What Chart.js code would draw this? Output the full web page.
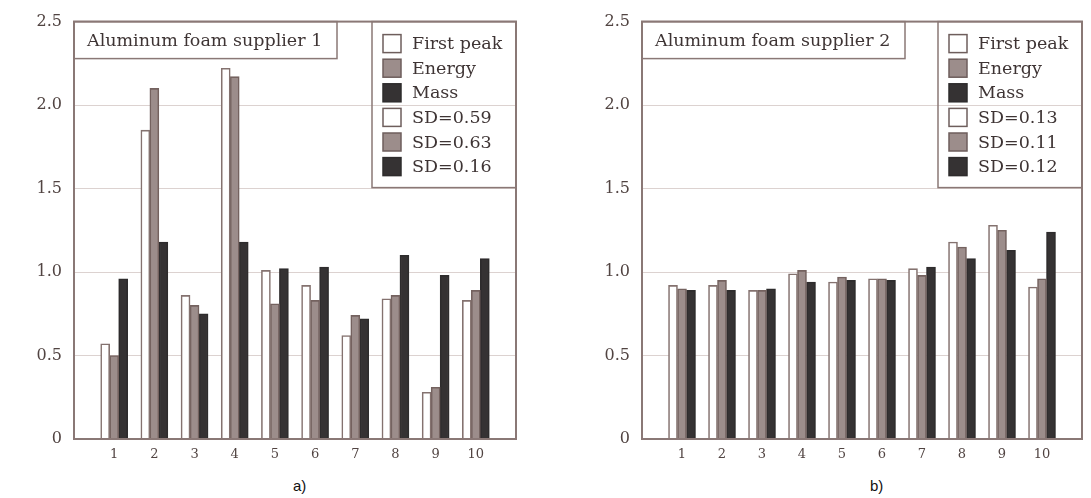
<!DOCTYPE html>
<html>
<head>
<meta charset="utf-8">
<script src="https://cdn.jsdelivr.net/npm/chart.js@4.4.1/dist/chart.umd.min.js"></script>
<style>
  body { margin: 0; background: #fff; width: 1091px; height: 498px; position: relative; overflow: hidden; }
  .box { position: absolute; top: 0; }
  .cap { position: absolute; top: 477px; font: 15px "Liberation Sans", Arial, sans-serif; color: #111; }
</style>
</head>
<body>
<div class="box" style="left:0"><canvas id="chartA" width="530" height="470"></canvas></div>
<div class="box" style="left:568px"><canvas id="chartB" width="523" height="470"></canvas></div>
<div class="cap" style="left:293px">a)</div>
<div class="cap" style="left:870px">b)</div>
<script>
// sample numbers on the x axis
const categories = ['1', '2', '3', '4', '5', '6', '7', '8', '9', '10'];
const seriesNames = ['First peak', 'Energy', 'Mass'];
const yTicks = [0, 0.5, 1.0, 1.5, 2.0, 2.5];

// supplier 1
const title1 = 'Aluminum foam supplier 1';
const s1FirstPeak = [0.57, 1.85, 0.86, 2.22, 1.01, 0.92, 0.62, 0.84, 0.28, 0.83];
const s1Energy    = [0.50, 2.10, 0.80, 2.17, 0.81, 0.83, 0.74, 0.86, 0.31, 0.89];
const s1Mass      = [0.96, 1.18, 0.75, 1.18, 1.02, 1.03, 0.72, 1.10, 0.98, 1.08];
const sd1 = ['SD=0.59', 'SD=0.63', 'SD=0.16'];

// supplier 2
const title2 = 'Aluminum foam supplier 2';
const s2FirstPeak = [0.92, 0.92, 0.89, 0.99, 0.94, 0.96, 1.02, 1.18, 1.28, 0.91];
const s2Energy    = [0.90, 0.95, 0.89, 1.01, 0.97, 0.96, 0.98, 1.15, 1.25, 0.96];
const s2Mass      = [0.89, 0.89, 0.90, 0.94, 0.95, 0.95, 1.03, 1.08, 1.13, 1.24];
const sd2 = ['SD=0.13', 'SD=0.11', 'SD=0.12'];

const fills   = ['#ffffff', '#9c8d8b', '#353233'];
const borders = ['#84726f', '#74625f', '#2e2c2d'];
const frameColor = '#8a7876';
const textColor = '#514442';
const serif = '"DejaVu Serif", "Liberation Serif", serif';

// pad with an empty slot on each side so 1..10 sit like the original axis
const axisLabels = ['', ...categories, ''];
const pad = arr => [null, ...arr, null];

const boxPlugin = {
    id: 'boxPlugin',
    afterDraw(chart, args, opts) {
        const ctx = chart.ctx;
        const a = chart.chartArea;
        ctx.save();
        ctx.strokeStyle = frameColor;
        ctx.lineWidth = 2;
        ctx.strokeRect(a.left, a.top, a.right - a.left, a.bottom - a.top);

        // title box
        ctx.lineWidth = 1.5;
        ctx.strokeRect(a.left, a.top, 263, 37);
        ctx.fillStyle = '#3e3434';
        ctx.font = '17.5px ' + serif;
        ctx.textBaseline = 'middle';
        ctx.fillText(opts.title, a.left + 13, a.top + 20);

        // legend box
        const lx = a.right - 144;
        ctx.strokeRect(lx, a.top, 144, 166);
        const names = [...seriesNames, ...opts.sd];
        names.forEach((name, i) => {
            const cy = a.top + 22 + i * 24.6;
            const k = i % 3;
            ctx.fillStyle = fills[k];
            ctx.fillRect(lx + 11, cy - 9, 18, 18);
            ctx.strokeStyle = k === 2 ? '#2e2c2d' : '#6e5e5c';
            ctx.lineWidth = 1.5;
            ctx.strokeRect(lx + 11, cy - 9, 18, 18);
            ctx.fillStyle = '#3e3434';
            ctx.font = '17.5px ' + serif;
            ctx.fillText(name, lx + 40, cy + 1);
        });
        ctx.restore();
    }
};

function makeChart(id, title, sd, first, energy, mass, padRight) {
    const values = [first, energy, mass];
    const datasets = seriesNames.map((name, i) => ({
        label: name,
        data: pad(values[i]),
        backgroundColor: fills[i],
        borderColor: borders[i],
        borderWidth: 1.6,
        barThickness: 9
    }));

    new Chart(document.getElementById(id), {
        type: 'bar',
        data: { labels: axisLabels, datasets: datasets },
        options: {
            responsive: false,
            animation: false,
            layout: { padding: { top: 18, right: padRight, left: 0, bottom: 0 } },
            plugins: {
                legend: { display: false },
                tooltip: { enabled: false },
                boxPlugin: { title: title, sd: sd }
            },
            scales: {
                x: {
                    offset: false,
                    grid: { display: false, drawTicks: false },
                    border: { display: false },
                    ticks: { color: textColor, font: { family: serif, size: 13 }, padding: 8, autoSkip: false, maxRotation: 0 },
                    afterFit: s => { s.height = 31; }
                },
                y: {
                    min: 0,
                    max: 2.5,
                    afterBuildTicks: s => { s.ticks = yTicks.map(v => ({ value: v })); },
                    grid: { color: '#dcd2d0', lineWidth: 1, drawTicks: false },
                    border: { display: false },
                    ticks: {
                        color: textColor,
                        font: { family: serif, size: 16 },
                        padding: 12,
                        callback: v => v === 0 ? '0' : v.toFixed(1)
                    },
                    afterFit: s => { s.width = 74; }
                }
            }
        },
        plugins: [boxPlugin]
    });
}

makeChart('chartA', title1, sd1, s1FirstPeak, s1Energy, s1Mass, 14);
makeChart('chartB', title2, sd2, s2FirstPeak, s2Energy, s2Mass, 9);
</script>
</body>
</html>
